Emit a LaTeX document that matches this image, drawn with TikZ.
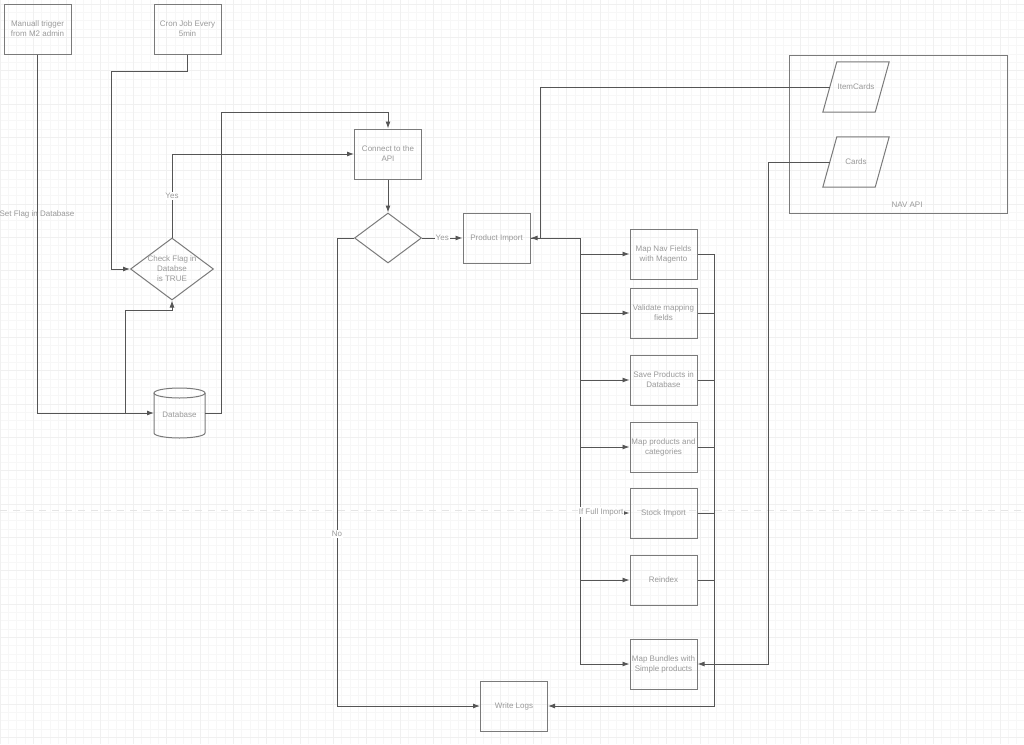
\documentclass[tikz,border=0pt]{standalone}
\usepackage{fontspec}
\setmainfont{Liberation Sans}
\usetikzlibrary{arrows.meta,shapes.geometric}
\definecolor{txtc}{HTML}{9A9A9A}
\definecolor{boxc}{HTML}{7A7A7A}
\definecolor{linec}{HTML}{555555}
\tikzset{
  every node/.style={font=\fontsize{8}{10}\selectfont, text=txtc},
  box/.style={draw=boxc, line width=1pt, minimum width=67pt, minimum height=50pt, align=center, inner sep=1pt},
  dia/.style={draw=boxc, line width=1pt, diamond, inner sep=0pt},
  conn/.style={draw=linec, line width=0.9pt},
  arr/.style={conn, -{Latex[length=7pt,width=5pt]}},
  lbl/.style={fill=white, inner sep=1pt},
  gridminor/.style={draw=black!3, line width=0.5pt},
  gridmajor/.style={draw=black!6, line width=0.6pt},
}
\begin{document}
\begin{tikzpicture}[x=1pt,y=-1pt]
\useasboundingbox (0,0) rectangle (1024,744);
\fill[white] (0,0) rectangle (1024,744);
% background grid
\foreach \i in {0,...,123} { \draw[gridminor] (\i*8.333,0) -- (\i*8.333,744); }
\foreach \j in {0,...,90} { \draw[gridminor] (0,4+\j*8.333) -- (1024,4+\j*8.333); }
\foreach \i in {0,...,31} { \draw[gridmajor] (\i*33.333,0) -- (\i*33.333,744); }
\foreach \j in {0,...,22} { \draw[gridmajor] (0,4+\j*33.333) -- (1024,4+\j*33.333); }
\draw[black!10, line width=0.8pt, dash pattern=on 7pt off 6pt] (0,510) -- (1024,510);

% NAV API container
\node[draw=boxc, line width=0.8pt, minimum width=218pt, minimum height=158pt] (nav) at (898,134) {};
\node at (907,205) {NAV API};

% nodes
\node[box] (man) at (37.5,29) {Manuall trigger\\from M2 admin};
\node[box] (cron) at (187.5,29) {Cron Job Every\\5min};
\node[dia, minimum width=83pt, minimum height=62pt] (chk) at (172,269) {};
\node[align=center] at (chk) {Check Flag in\\Databse\\is TRUE};
\node[minimum width=51pt, minimum height=50pt, inner sep=0pt] (db) at (179.5,415) {Database};
\draw[draw=boxc, line width=1pt] (154,393) -- (154,433) arc[start angle=180, end angle=360, x radius=25.5pt, y radius=5pt] -- (205,393);
\draw[draw=boxc, line width=1pt] (179.5,393) ellipse[x radius=25.5pt, y radius=5pt];
\coordinate (dbw) at (154,413);
\coordinate (dbe) at (205,413);
\node[box] (con) at (388,154) {Connect to the\\API};
\node[dia, minimum width=67pt, minimum height=50pt] (dec) at (388,238) {};
\node[box] (pi) at (496.5,238) {Product Import};
\node[box] (mnf) at (663.5,254) {Map Nav Fields\\with Magento};
\node[box] (val) at (663.5,313) {Validate mapping\\fields};
\node[box] (sav) at (663.5,380) {Save Products in\\Database};
\node[box] (mpc) at (663.5,447) {Map products and\\categories};
\node[box] (stk) at (663.5,513) {Stock Import};
\node[box] (rei) at (663.5,580) {Reindex};
\node[box] (mb) at (663.5,664) {Map Bundles with\\Simple products};
\node[box] (wl) at (514,706) {Write Logs};
\node[minimum width=52pt, minimum height=50pt, inner sep=0pt] (ic) at (856,87) {ItemCards};
\node[minimum width=52pt, minimum height=50pt, inner sep=0pt] (cards) at (856,162) {Cards};
\foreach \p in {ic,cards} {
  \draw[draw=boxc, line width=1pt] ([xshift=7pt]\p.north west) -- ([xshift=7pt]\p.north east) -- ([xshift=-7pt]\p.south east) -- ([xshift=-7pt]\p.south west) -- cycle;
}

% connectors
\draw[arr] (man.south) |- (dbw);
\node at (37,214) {Set Flag in Database};
\coordinate (j1) at (125,413);
\draw[arr] (j1) -- (125,310) -| (chk.south);
\draw[arr] (cron.south) |- (111,71) |- (chk.west);
\draw[arr] (chk.north) |- (con.west);
\node[lbl] at (172,196) {Yes};
\draw[arr] (dbe) -| (221,112) -| (con.north);
\draw[arr] (con.south) -- (dec.north);
\draw[arr] (dec.east) -- node[lbl]{Yes} (pi.west);
\draw[arr] (dec.west) -| (337,706) -- (wl.west);
\node[lbl] at (337,534) {No};
\draw[arr] (ic.west) -| ([xshift=10pt]pi.east) -- (pi.east);
\coordinate (bus) at (580,238);
\draw[conn] (pi.east) -- (bus) -- (bus |- mb.west);
\foreach \b in {mnf,val,sav,mpc,stk,rei,mb} { \draw[arr] (bus |- \b.west) -- (\b.west); }
\node[lbl] at (601,512) {If Full Import};
\coordinate (rb) at (714,254);
\foreach \b in {val,sav,mpc,stk,rei} { \draw[conn] (\b.east) -- (rb |- \b.east); }
\draw[arr] (mnf.east) -| (rb |- wl.east) -- (wl.east);
\draw[arr] (cards.west) -| ([xshift=71pt]mb.east) -- (mb.east);
\end{tikzpicture}
\end{document}
